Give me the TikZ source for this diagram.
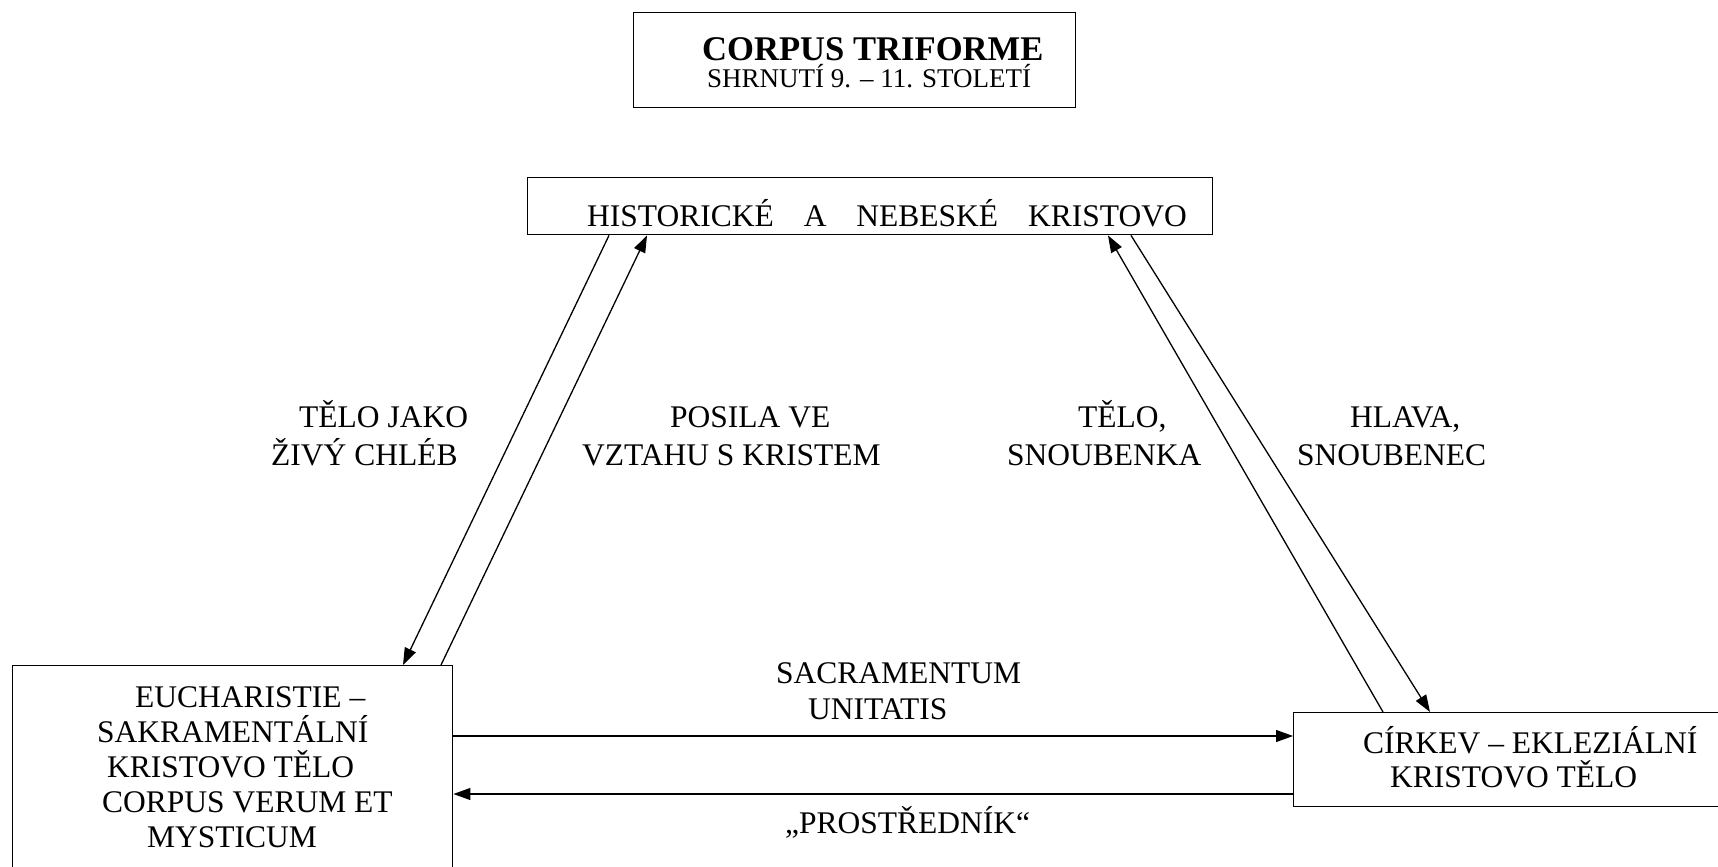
\documentclass[tikz,border=0pt]{standalone}
\usepackage{fontspec}
\setmainfont{Liberation Serif}
\usetikzlibrary{arrows.meta}
\begin{document}
\begin{tikzpicture}[x=1pt,y=-1pt,
  box/.style={draw,line width=1.4pt,inner sep=0pt,anchor=north west},
  lbl/.style={anchor=base west,inner sep=0pt,font=\fontsize{31.5}{35}\selectfont},
  arr/.style={line width=1.3pt,-{Triangle[length=17pt,width=12pt]}}]
\useasboundingbox (0,0) rectangle (1718,867);
\clip (0,0) rectangle (1718,867);
\fill[white] (0,0) rectangle (1718,867);
% boxes
\node[box,minimum width=442pt,minimum height=95pt] (title) at (633,12) {};
\node[box,minimum width=685pt,minimum height=57pt] (hist) at (527,177) {};
\node[box,minimum width=440pt,minimum height=300pt] (euch) at (12,665) {};
\node[box,minimum width=500pt,minimum height=94pt] (church) at (1293,712) {};
% title texts
\node[anchor=base west,inner sep=0pt,font=\fontsize{34.6}{38}\selectfont\bfseries] (t1) at (702,60) {CORPUS TRIFORME};
\node[anchor=base west,inner sep=0pt,font=\fontsize{27}{30}\selectfont] (t2) at (707,88) {SHRNUTÍ 9. – 11. STOLETÍ};
% box texts
\node[lbl] (h1) at (587,226) {HISTORICKÉ\hspace{0.95em}A\hspace{0.95em}NEBESKÉ\hspace{0.95em}KRISTOVO};
\node[lbl] (e1) at (135,707) {EUCHARISTIE –};
\node[lbl] (e2) at (97,742) {SAKRAMENTÁLNÍ};
\node[lbl] (e3) at (107,777) {KRISTOVO TĚLO};
\node[lbl] (e4) at (102,812) {CORPUS VERUM ET};
\node[lbl] (e5) at (147,847) {MYSTICUM};
\node[lbl] (c1) at (1363,753) {CÍRKEV – EKLEZIÁLNÍ};
\node[lbl] (c2) at (1390,787) {KRISTOVO TĚLO};
% connector labels
\node[lbl] (l1) at (299,427) {TĚLO JAKO};
\node[lbl] (l2) at (271,465) {ŽIVÝ CHLÉB};
\node[lbl] (p1) at (670,427) {POSILA VE};
\node[lbl] (p2) at (582,465) {VZTAHU S KRISTEM};
\node[lbl] (s1) at (1078,427) {TĚLO,};
\node[lbl] (s2) at (1007,465) {SNOUBENKA};
\node[lbl] (k1) at (1350,427) {HLAVA,};
\node[lbl] (k2) at (1297,465) {SNOUBENEC};
\node[lbl] (u1) at (776,683) {SACRAMENTUM};
\node[lbl] (u2) at (808,719) {UNITATIS};
\node[lbl] (m1) at (785,833) {„PROSTŘEDNÍK“};
% connectors
\draw[arr] ([xshift=82pt]hist.south west) -- ([xshift=391pt]euch.north west);
\draw[arr] ([xshift=429pt]euch.north west) -- ([xshift=120pt]hist.south west);
\draw[arr] ([xshift=90pt]church.north west) -- ([xshift=581pt]hist.south west);
\draw[arr] ([xshift=604pt]hist.south west) -- ([xshift=137pt]church.north west);
\draw[arr] ([yshift=-71pt]euch.north east) -- ([yshift=-24pt]church.north west);
\draw[arr] ([yshift=-82pt]church.north west) -- ([yshift=-129pt]euch.north east);
\end{tikzpicture}
\end{document}
